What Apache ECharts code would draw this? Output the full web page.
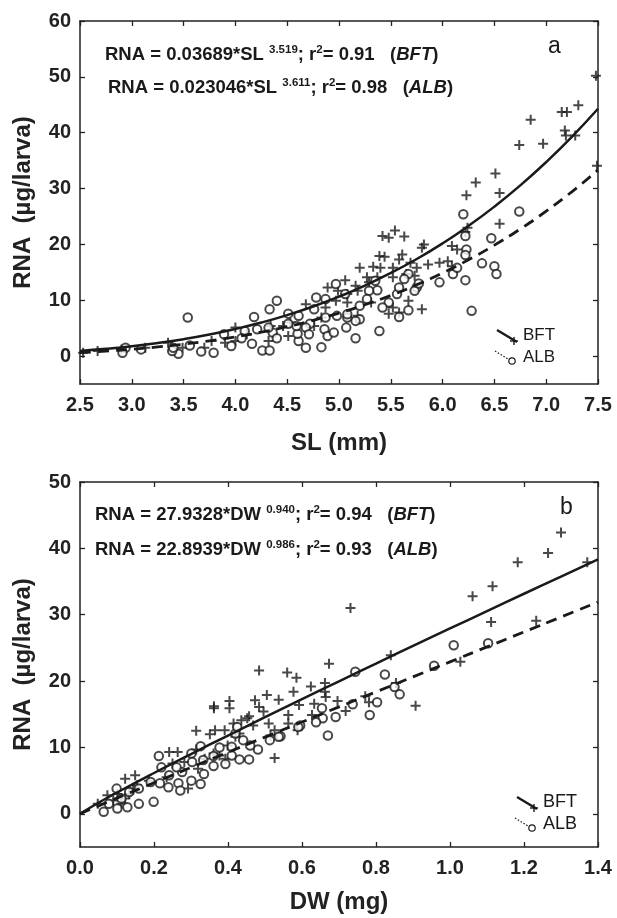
<!DOCTYPE html>
<html>
<head>
<meta charset="utf-8">
<script src="https://cdn.jsdelivr.net/npm/echarts@6/dist/echarts.min.js"></script>
<style>
  html, body { margin: 0; padding: 0; background: #fff; }
  #chart { width: 617px; height: 918px; }
</style>
</head>
<body>
<div id="chart"></div>
<script>
// panel a - RNA vs SL, points as [SL, RNA]
var slBft = [
  [7.48, 50.2], [7.31, 44.9], [7.15, 43.7], [7.20, 43.7], [7.18, 40.4], [7.19, 39.5], [7.28, 39.5],
  [6.85, 42.3], [6.74, 37.8], [6.97, 38.0], [7.49, 34.1], [6.51, 32.7], [6.32, 31.1], [6.23, 28.8],
  [6.55, 29.2], [6.55, 23.7], [6.24, 23.0], [6.22, 22.2], [5.54, 22.5], [5.42, 21.5], [5.48, 21.2],
  [5.63, 21.4], [5.82, 20.0], [5.80, 19.4], [6.09, 19.7], [6.14, 19.1], [5.39, 17.9], [5.44, 17.8],
  [5.58, 17.3], [5.61, 18.2], [5.69, 16.7], [5.52, 15.8], [5.40, 15.8], [5.33, 16.0], [5.20, 15.8],
  [5.27, 14.1], [5.37, 14.1], [5.52, 14.1], [5.75, 15.8], [5.86, 16.4], [5.97, 16.7], [6.05, 17.0],
  [6.09, 16.1], [5.65, 14.7], [5.73, 14.4], [5.06, 13.6], [5.16, 12.6], [5.29, 13.2], [4.89, 12.3],
  [4.99, 11.7], [5.08, 11.1], [4.97, 9.9], [5.08, 9.6], [5.18, 11.7], [4.87, 8.7], [4.68, 9.3],
  [5.80, 8.4], [5.48, 7.6], [5.58, 7.8], [5.18, 7.2], [5.31, 9.6], [5.67, 9.9], [5.52, 8.7],
  [4.53, 6.0], [4.51, 3.6], [4.34, 5.4], [4.46, 5.4], [4.76, 5.4], [4.83, 6.9], [4.00, 5.1],
  [4.11, 3.9], [3.90, 2.4], [3.77, 2.7], [3.70, 1.5], [4.00, 2.7], [4.32, 2.7], [3.35, 2.4],
  [3.49, 1.5], [3.13, 1.5], [2.67, 0.9], [2.90, 1.2], [2.53, 0.6]
];
var slAlb = [
  [6.74, 25.9], [6.20, 25.4], [6.22, 21.5], [6.23, 19.1], [6.22, 18.1], [6.47, 21.1], [6.50, 16.1],
  [6.52, 14.7], [6.38, 16.6], [6.22, 13.6], [6.28, 8.1], [5.97, 13.2], [6.10, 14.7], [6.14, 15.8],
  [5.75, 12.3], [5.73, 11.7], [5.77, 13.0], [5.67, 14.7], [5.63, 13.8], [5.56, 11.1], [5.58, 12.3],
  [5.67, 8.2], [5.58, 7.0], [5.48, 9.6], [5.42, 8.7], [5.37, 11.8], [5.35, 13.5], [5.29, 11.7],
  [5.27, 10.2], [5.20, 9.0], [5.20, 6.6], [5.16, 6.3], [5.16, 3.2], [5.39, 4.5], [5.08, 6.9],
  [5.07, 5.1], [5.08, 7.5], [5.06, 11.1], [4.97, 12.9], [4.98, 7.2], [4.87, 6.9], [4.86, 4.8],
  [4.89, 3.6], [4.95, 4.2], [4.83, 1.6], [4.87, 10.2], [4.78, 10.5], [4.76, 8.4], [4.72, 5.8],
  [4.68, 5.1], [4.71, 3.9], [4.61, 2.7], [4.68, 1.5], [4.60, 4.0], [4.59, 5.4], [4.61, 7.2],
  [4.51, 7.6], [4.51, 5.8], [4.40, 9.9], [4.33, 8.4], [4.18, 7.0], [4.21, 4.8], [4.09, 4.5],
  [4.06, 3.2], [4.16, 2.2], [4.36, 4.2], [4.40, 3.2], [4.32, 5.1], [4.26, 1.0], [4.33, 1.0],
  [3.96, 1.8], [3.89, 3.9], [3.79, 0.6], [3.67, 0.8], [3.54, 6.9], [3.56, 1.9], [3.45, 0.4],
  [3.39, 0.9], [3.40, 1.5], [3.09, 1.2], [2.94, 1.5], [2.91, 0.6]
];
// fitted curves as drawn
var slFitX = [2.5, 2.75, 3.0, 3.25, 3.5, 3.75, 4.0, 4.25, 4.5, 4.75, 5.0, 5.25, 5.5, 5.75, 6.0, 6.25, 6.5, 6.75, 7.0, 7.25, 7.5];
var slFitBft = [0.93, 1.30, 1.76, 2.34, 3.03, 3.86, 4.85, 6.00, 7.34, 8.88, 10.63, 12.62, 14.87, 17.38, 20.19, 23.31, 26.76, 30.56, 34.74, 39.30, 44.28];
var slFitAlb = [0.63, 0.89, 1.22, 1.63, 2.13, 2.73, 3.44, 4.28, 5.27, 6.40, 7.70, 9.19, 10.86, 12.76, 14.88, 17.24, 19.86, 22.76, 25.95, 29.46, 33.30];

// panel b - RNA vs DW, points as [DW, RNA]
var dwBft = [
  [1.300, 42.4], [1.265, 39.3], [1.183, 37.9], [1.371, 37.9], [1.115, 34.3], [1.061, 32.8], [0.731, 31.0],
  [1.111, 28.9], [1.233, 29.1], [0.840, 23.9], [1.028, 22.9], [0.673, 22.6], [0.484, 21.6], [0.560, 21.3],
  [0.585, 20.5], [0.662, 19.7], [0.624, 19.2], [0.854, 19.7], [0.537, 17.2], [0.577, 18.4], [0.662, 18.4],
  [0.664, 17.6], [0.473, 17.1], [0.505, 17.9], [0.484, 16.1], [0.496, 15.4], [0.404, 17.0], [0.404, 15.9],
  [0.362, 16.2], [0.362, 15.9], [0.592, 16.4], [0.627, 14.9], [0.633, 16.6], [0.696, 17.0], [0.718, 15.5],
  [0.771, 17.7], [0.781, 16.8], [0.907, 16.3], [0.563, 14.9], [0.563, 13.6], [0.588, 12.6], [0.526, 12.6],
  [0.515, 11.8], [0.510, 13.6], [0.468, 13.3], [0.452, 14.4], [0.431, 12.1], [0.415, 13.6], [0.420, 11.6],
  [0.399, 10.3], [0.391, 12.6], [0.365, 12.6], [0.351, 12.0], [0.314, 12.5], [0.361, 9.1], [0.377, 8.8],
  [0.393, 8.3], [0.314, 9.7], [0.337, 8.3], [0.319, 6.8], [0.526, 8.4], [0.292, 3.8], [0.241, 9.3],
  [0.250, 7.6], [0.234, 5.5], [0.186, 5.0], [0.149, 5.8], [0.122, 5.3], [0.144, 3.8], [0.101, 3.0],
  [0.074, 2.8], [0.090, 2.0], [0.122, 2.3], [0.048, 1.5], [0.112, 1.5], [0.133, 3.0], [0.154, 4.3],
  [0.264, 9.3], [0.282, 7.8], [0.436, 14.1], [0.457, 14.7]
];
var dwAlb = [
  [1.010, 25.4], [1.103, 25.7], [0.957, 22.3], [0.744, 21.4], [0.824, 21.0], [0.850, 19.1], [0.864, 18.0],
  [0.803, 16.8], [0.783, 14.9], [0.737, 16.5], [0.691, 14.6], [0.654, 15.9], [0.656, 14.4], [0.638, 13.8],
  [0.670, 11.8], [0.595, 13.3], [0.542, 11.7], [0.513, 11.1], [0.481, 9.7], [0.460, 10.3], [0.457, 8.2],
  [0.431, 8.2], [0.410, 8.8], [0.441, 11.1], [0.420, 12.1], [0.425, 13.1], [0.410, 10.1], [0.393, 7.5],
  [0.377, 10.0], [0.361, 8.7], [0.361, 7.2], [0.333, 8.1], [0.335, 6.0], [0.326, 4.5], [0.326, 10.2],
  [0.301, 9.1], [0.301, 5.0], [0.303, 7.8], [0.276, 6.3], [0.266, 4.6], [0.271, 3.5], [0.261, 7.0],
  [0.241, 5.8], [0.239, 4.0], [0.220, 7.0], [0.216, 4.6], [0.213, 8.7], [0.199, 1.8], [0.191, 4.8],
  [0.159, 3.8], [0.133, 3.3], [0.128, 1.0], [0.101, 0.8], [0.064, 0.3], [0.099, 3.8], [0.078, 1.5],
  [0.112, 2.3], [0.159, 1.5], [0.590, 13.1], [0.537, 11.6]
];
var dwFitX = [0, 0.05, 0.1, 0.2, 0.3, 0.4, 0.5, 0.6, 0.7, 0.8, 0.9, 1.0, 1.1, 1.2, 1.3, 1.4];
var dwFitBft = [0, 1.67, 3.21, 6.15, 9.01, 11.80, 14.56, 17.28, 19.97, 22.64, 25.30, 27.93, 30.55, 33.16, 35.75, 38.33];
var dwFitAlb = [0, 1.19, 2.37, 4.68, 6.99, 9.28, 11.56, 13.83, 16.11, 18.37, 20.63, 22.89, 25.15, 27.40, 29.65, 31.90];

// ticks
var slTicks = [2.5, 3.0, 3.5, 4.0, 4.5, 5.0, 5.5, 6.0, 6.5, 7.0, 7.5];
var rnaTicksA = [0, 10, 20, 30, 40, 50, 60];
var dwTicks = [0, 0.2, 0.4, 0.6, 0.8, 1.0, 1.2, 1.4];
var rnaTicksB = [0, 10, 20, 30, 40, 50];

var FONT = 'Liberation Sans';
var INK = '#1a1a1a';
var crossPath = 'path://M4,0H6V4H10V6H6V10H4V6H0V4H4Z';

function pairs (xs, ys) {
  return xs.map(function (x, i) { return [x, ys[i]] })
}

function axis (gridIndex, min, max, ticks, position, showLabel, fmt) {
  return {
    type: 'value',
    gridIndex: gridIndex,
    min: min,
    max: max,
    position: position,
    axisLine: { show: true, onZero: false, lineStyle: { color: '#222', width: 1.5 } },
    axisTick: { show: true, inside: true, length: 5, customValues: ticks, lineStyle: { color: '#222', width: 1.3 } },
    axisLabel: {
      show: showLabel,
      customValues: ticks,
      fontFamily: FONT,
      fontWeight: 'bold',
      fontSize: 20,
      color: '#222',
      margin: position === 'bottom' ? 11 : 9,
      formatter: fmt
    },
    splitLine: { show: false }
  }
}

function fix1 (v) { return v.toFixed(1) }
function int0 (v) { return String(Math.round(v)) }

var nameStyle = { fontFamily: FONT, fontWeight: 'bold', fontSize: 24, color: '#222' }

var xA = axis(0, 2.5, 7.5, slTicks, 'bottom', true, fix1)
xA.name = 'SL (mm)'; xA.nameLocation = 'middle'; xA.nameGap = 47; xA.nameTextStyle = nameStyle
var yA = axis(0, -5, 60, rnaTicksA, 'left', true, int0)
yA.name = 'RNA  (\u00b5g/larva)'; yA.nameLocation = 'middle'; yA.nameGap = 45; yA.nameTextStyle = nameStyle
var xB = axis(1, 0, 1.4, dwTicks, 'bottom', true, fix1)
xB.name = 'DW (mg)'; xB.nameLocation = 'middle'; xB.nameGap = 43; xB.nameTextStyle = nameStyle
var yB = axis(1, -5, 50, rnaTicksB, 'left', true, int0)
yB.name = 'RNA  (\u00b5g/larva)'; yB.nameLocation = 'middle'; yB.nameGap = 45; yB.nameTextStyle = nameStyle

function scatter (x, y, data, open) {
  return {
    type: 'scatter',
    xAxisIndex: x,
    yAxisIndex: y,
    data: data,
    symbol: open ? 'emptyCircle' : crossPath,
    symbolSize: open ? 8.5 : 10,
    itemStyle: open
      ? { color: INK, borderColor: INK, borderWidth: 1.4 }
      : { color: INK },
    silent: true
  }
}

function fit (x, y, data, dashed) {
  return {
    type: 'line',
    xAxisIndex: x,
    yAxisIndex: y,
    data: data,
    smooth: true,
    showSymbol: false,
    lineStyle: { color: INK, width: dashed ? 2.8 : 2.5, type: dashed ? [11, 7] : 'solid' },
    silent: true
  }
}

function eqText (x, y, head, e, r2, tag) {
  return {
    type: 'text',
    x: x,
    y: y,
    style: {
      text: '{m|' + head + '}{s|' + e + '}{m|; r}{s|2}{m|= ' + r2 + '   (}{i|' + tag + '}{m|)}',
      verticalAlign: 'middle',
      rich: {
        m: { fontFamily: FONT, fontWeight: 'bold', fontSize: 18.5, fill: INK, lineHeight: 22 },
        s: { fontFamily: FONT, fontWeight: 'bold', fontSize: 11.5, fill: INK, verticalAlign: 'top', lineHeight: 22 },
        i: { fontFamily: FONT, fontWeight: 'bold', fontStyle: 'italic', fontSize: 18.5, fill: INK, lineHeight: 22 }
      }
    }
  }
}

function legendKey (x, y, size) {
  // x,y = start of the slanted line, labels to the right
  return {
    type: 'group',
    x: x,
    y: y,
    children: [
      { type: 'line', shape: { x1: 0, y1: 0, x2: 20, y2: 12 }, style: { stroke: INK, lineWidth: 2.4 } },
      { type: 'line', shape: { x1: 13, y1: 11, x2: 21, y2: 11 }, style: { stroke: INK, lineWidth: 1.4 } },
      { type: 'line', shape: { x1: 17, y1: 7, x2: 17, y2: 15 }, style: { stroke: INK, lineWidth: 1.4 } },
      { type: 'text', x: 26, y: 5, style: { text: 'BFT', fontFamily: FONT, fontSize: size, fill: INK, verticalAlign: 'middle' } },
      { type: 'line', shape: { x1: -2, y1: 21, x2: 11, y2: 29 }, style: { stroke: INK, lineWidth: 1.3, lineDash: [1.5, 1.8] } },
      { type: 'circle', shape: { cx: 15, cy: 31, r: 3.2 }, style: { stroke: INK, fill: '#fff', lineWidth: 1.2 } },
      { type: 'text', x: 26, y: 27, style: { text: 'ALB', fontFamily: FONT, fontSize: size, fill: INK, verticalAlign: 'middle' } }
    ]
  }
}

var chart = echarts.init(document.getElementById('chart'))
chart.setOption({
  backgroundColor: '#fff',
  animation: false,
  grid: [
    { left: 80, top: 21, width: 518, height: 363, show: false },
    { left: 80, top: 482, width: 518, height: 365, show: false }
  ],
  xAxis: [
    xA,
    axis(0, 2.5, 7.5, slTicks, 'top', false),
    xB,
    axis(1, 0, 1.4, dwTicks, 'top', false)
  ],
  yAxis: [
    yA,
    axis(0, -5, 60, rnaTicksA, 'right', false),
    yB,
    axis(1, -5, 50, rnaTicksB, 'right', false)
  ],
  series: [
    scatter(0, 0, slBft, false),
    scatter(0, 0, slAlb, true),
    fit(0, 0, pairs(slFitX, slFitBft), false),
    fit(0, 0, pairs(slFitX, slFitAlb), true),
    scatter(2, 2, dwBft, false),
    scatter(2, 2, dwAlb, true),
    fit(2, 2, pairs(dwFitX, dwFitBft), false),
    fit(2, 2, pairs(dwFitX, dwFitAlb), true)
  ],
  graphic: [
    eqText(105, 55, 'RNA = 0.03689*SL ', '3.519', '0.91', 'BFT'),
    eqText(108, 88, 'RNA = 0.023046*SL ', '3.611', '0.98', 'ALB'),
    eqText(95, 515, 'RNA = 27.9328*DW ', '0.940', '0.94', 'BFT'),
    eqText(95, 550, 'RNA = 22.8939*DW ', '0.986', '0.93', 'ALB'),
    { type: 'text', x: 548, y: 47, style: { text: 'a', fontFamily: FONT, fontSize: 23, fill: INK, verticalAlign: 'middle' } },
    { type: 'text', x: 560, y: 508, style: { text: 'b', fontFamily: FONT, fontSize: 23, fill: INK, verticalAlign: 'middle' } },
    legendKey(497, 330, 17),
    legendKey(517, 797, 18)
  ]
})
</script>
</body>
</html>
